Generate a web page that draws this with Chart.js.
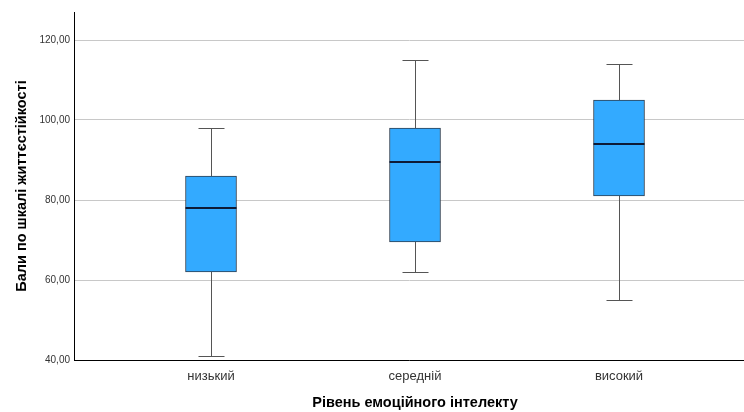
<!DOCTYPE html>
<html>
<head>
<meta charset="utf-8">
<script src="https://cdn.jsdelivr.net/npm/chart.js@4"></script>
<style>
  html, body { margin: 0; padding: 0; background: #fff; }
  #wrap { width: 744px; height: 412px; }
</style>
</head>
<body>
<div id="wrap"><canvas id="c" width="744" height="412"></canvas></div>
<script>
const categories = ['низький', 'середній', 'високий'];
const minValues = [41, 62, 55];
const q1Values = [62, 69.5, 81];
const medianValues = [78, 89.5, 94];
const q3Values = [86, 98, 105];
const maxValues = [98, 115, 114];
const yTicks = [40, 60, 80, 100, 120];
const xTitle = 'Рівень емоційного інтелекту';
const yTitle = 'Бали по шкалі життєстійкості';

const boxData = categories.map((c, i) => ({ x: i, y: [q1Values[i], q3Values[i]] }));

const whiskerPlugin = {
  id: 'whiskers',
  beforeDatasetsDraw(chart) {
    const ctx = chart.ctx, xs = chart.scales.x, ys = chart.scales.y;
    ctx.save();
    ctx.strokeStyle = '#555555';
    ctx.lineWidth = 1;
    categories.forEach((c, i) => {
      const x = Math.round(xs.getPixelForValue(i)) + 0.5;
      const yMin = ys.getPixelForValue(minValues[i]);
      const yMax = ys.getPixelForValue(maxValues[i]);
      ctx.beginPath();
      ctx.moveTo(x, yMin); ctx.lineTo(x, yMax);
      ctx.moveTo(x - 13, Math.round(yMin) + 0.5); ctx.lineTo(x + 13, Math.round(yMin) + 0.5);
      ctx.moveTo(x - 13, Math.round(yMax) + 0.5); ctx.lineTo(x + 13, Math.round(yMax) + 0.5);
      ctx.stroke();
    });
    ctx.restore();
  },
  afterDatasetsDraw(chart) {
    const ctx = chart.ctx, xs = chart.scales.x, ys = chart.scales.y;
    ctx.save();
    ctx.strokeStyle = '#0d1a36';
    ctx.lineWidth = 2;
    categories.forEach((c, i) => {
      const x = xs.getPixelForValue(i);
      const y = Math.round(ys.getPixelForValue(medianValues[i]));
      ctx.beginPath();
      ctx.moveTo(x - 25.5, y); ctx.lineTo(x + 25.5, y);
      ctx.stroke();
    });
    ctx.restore();
  },
  afterDraw(chart) {
    const ctx = chart.ctx, xs = chart.scales.x;
    ctx.save();
    ctx.fillStyle = '#000000';
    ctx.font = 'bold 14.5px "Liberation Sans"';
    ctx.textAlign = 'center';
    ctx.textBaseline = 'middle';
    ctx.fillText(xTitle, xs.getPixelForValue(1), 403);
    ctx.restore();
  }
};

new Chart(document.getElementById('c'), {
  type: 'bar',
  data: {
    datasets: [{
      data: boxData,
      backgroundColor: '#33aaff',
      borderColor: '#2e3e50',
      borderWidth: 1,
      borderSkipped: false,
      barThickness: 51
    }]
  },
  options: {
    responsive: false,
    animation: false,
    devicePixelRatio: 1,
    layout: { padding: { left: 0, right: 0, top: 12, bottom: 0 } },
    plugins: { legend: { display: false }, tooltip: { enabled: false } },
    scales: {
      x: {
        type: 'linear',
        offset: false,
        min: -0.6716,
        max: 2.6127,
        afterBuildTicks(s) { s.ticks = categories.map((c, i) => ({ value: i })); },
        afterFit(s) { s.height = 52; },
        ticks: {
          callback: (v) => categories[v],
          color: '#333333',
          font: { family: 'Liberation Sans', size: 13 },
          padding: 9,
          autoSkip: false,
          maxRotation: 0
        },
        grid: { display: false, drawTicks: false, offset: false },
        border: { display: true, color: '#000000', width: 1 },
        title: { display: false }
      },
      y: {
        min: 40,
        max: 127,
        afterBuildTicks(s) { s.ticks = yTicks.map(v => ({ value: v })); },
        afterFit(s) { s.width = 74; },
        ticks: {
          callback: (v) => v.toFixed(2).replace('.', ','),
          color: '#333333',
          font: { family: 'Liberation Sans', size: 10 },
          padding: 4
        },
        grid: { color: '#c8c8c8', lineWidth: 1, drawTicks: false },
        border: { display: true, color: '#000000', width: 1 },
        title: {
          display: true,
          text: yTitle,
          color: '#000000',
          font: { family: 'Liberation Sans', size: 14.5, weight: 'bold' },
          padding: { top: 13, bottom: 0 }
        }
      }
    }
  },
  plugins: [whiskerPlugin]
});
</script>
</body>
</html>
